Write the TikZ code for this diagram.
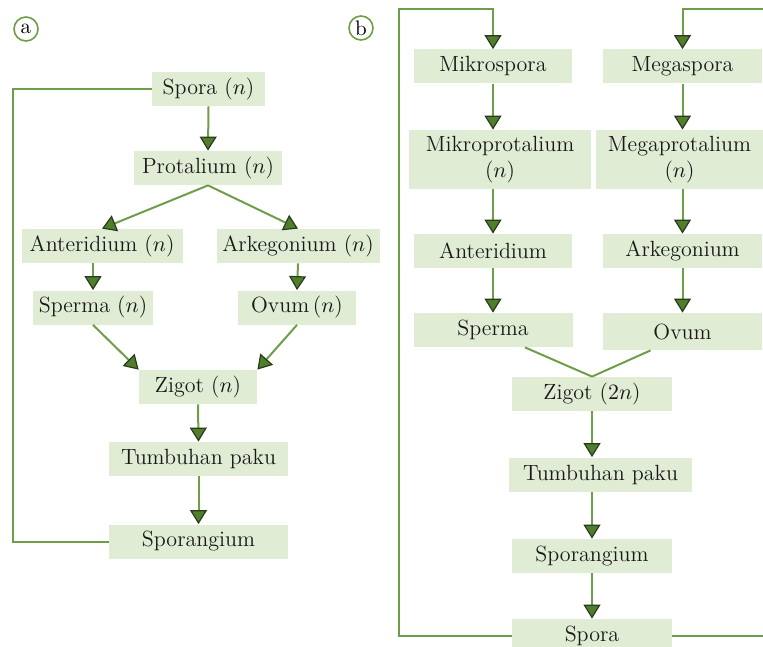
\documentclass[tikz,border=0pt]{standalone}
\usepackage{tikz}
\usetikzlibrary{arrows.meta,calc}
\definecolor{boxgreen}{HTML}{E1ECD4}
\definecolor{linegreen}{HTML}{6F9E48}
\definecolor{tipgreen}{HTML}{4F7F28}
\definecolor{tipdark}{HTML}{2B3A1F}
\tikzset{
  stage/.style={fill=boxgreen, draw=none, minimum height=17pt, inner sep=0pt, align=center, font=\fontsize{11}{13}\selectfont, text=black!90},
  flow/.style={draw=linegreen, line width=1pt, -{Triangle[width=8.5pt,length=7pt,fill=tipgreen,color=tipdark,line width=0.6pt]}},
  link/.style={draw=linegreen, line width=1pt},
  panel/.style={circle, draw=linegreen, line width=0.8pt, minimum size=12pt, inner sep=0pt, font=\fontsize{10.5}{11}\selectfont}
}

\begin{document}
\begin{tikzpicture}[x=0.5pt, y=-0.5pt]
  \useasboundingbox (0,0) rectangle (763,646);
  \node[panel] (labA) at (26,29) {a};
  \node[panel] (labB) at (361,28) {b};

  \node[stage, minimum width=56.5pt] (sporaA) at (208.5,89) {Spora ($n$)};
  \node[stage, minimum width=74pt] (protA) at (208,168) {Protalium ($n$)};
  \node[stage, minimum width=80.5pt] (antA) at (102,246) {Anteridium ($n$)};
  \node[stage, minimum width=81.5pt] (arkA) at (298,246) {Arkegonium ($n$)};
  \node[stage, minimum width=60pt] (spermA) at (93,307.5) {Sperma ($n$)};
  \node[stage, minimum width=59pt] (ovumA) at (297,307.5) {Ovum\,($n$)};
  \node[stage, minimum width=59pt] (zigA) at (198,387) {Zigot ($n$)};
  \node[stage, minimum width=89.5pt] (tumbA) at (198.5,459) {Tumbuhan paku};
  \node[stage, minimum width=89.5pt] (sporgA) at (198.5,541.5) {Sporangium};
  \coordinate (leftA) at (13,89);

  \draw[flow] (sporaA.south) -- (protA.north);
  \draw[flow] (protA.south) -- (antA.north);
  \draw[flow] (protA.south) -- (arkA.north);
  \draw[flow] (antA.south -| spermA.north) -- (spermA.north);
  \draw[flow] (arkA.south) -- (ovumA.north);
  \draw[flow] (spermA.south) -- (zigA.north west);
  \draw[flow] (ovumA.south) -- (zigA.north east);
  \draw[flow] (zigA.south) -- (tumbA.north);
  \draw[flow] (tumbA.south) -- (sporgA.north);
  \draw[link] (sporaA.west) -- (leftA) |- (sporgA.west);

  \node[stage, minimum width=79pt] (mikroB) at (493,66.5) {Mikrospora};
  \node[stage, minimum width=79.5pt] (megaB) at (682.5,66.5) {Megaspora};
  \node[stage, minimum width=91pt, minimum height=29.5pt] (mprotB) at (500,159.5) {Mikroprotalium\\($n$)};
  \node[stage, minimum width=83.5pt, minimum height=29.5pt] (gprotB) at (679.5,159.5) {Megaprotalium\\($n$)};
  \node[stage, minimum width=79pt] (antB) at (493,251) {Anteridium};
  \node[stage, minimum width=79.5pt] (arkB) at (682.5,251) {Arkegonium};
  \node[stage, minimum width=79.5pt] (spermB) at (493,330) {Sperma};
  \node[stage, minimum width=79.5pt, minimum height=18.5pt] (ovumB) at (682.5,331.5) {Ovum};
  \node[stage, minimum width=80pt] (zigB) at (592,394) {Zigot ($2n$)};
  \node[stage, minimum width=91.5pt] (tumbB) at (600.5,474.5) {Tumbuhan paku};
  \node[stage, minimum width=80pt] (sporgB) at (592,556) {Sporangium};
  \node[stage, minimum width=80pt] (sporaB) at (592,636) {Spora};
  \coordinate (topL) at (399,9);
  \coordinate (topR) at (767,9);

  \draw[flow] (sporaB.west) -| (topL) -| (mikroB.north);
  \draw[flow] (sporaB.east) -| (topR) -| (megaB.north);
  \draw[flow] (mikroB.south) -- (mikroB.south |- mprotB.north);
  \draw[flow] (megaB.south) -- (megaB.south |- gprotB.north);
  \draw[flow] (antB.north |- mprotB.south) -- (antB.north);
  \draw[flow] (arkB.north |- gprotB.south) -- (arkB.north);
  \draw[flow] (antB.south) -- (spermB.north);
  \draw[flow] (arkB.south) -- (ovumB.north);
  \draw[link] ($(spermB.south)!0.4!(spermB.south east)$) -- (zigB.north);
  \draw[link] ($(ovumB.south)!0.4!(ovumB.south west)$) -- (zigB.north);
  \draw[flow] (zigB.south) -- (zigB.south |- tumbB.north);
  \draw[flow] (sporgB.north |- tumbB.south) -- (sporgB.north);
  \draw[flow] (sporgB.south) -- (sporaB.north);
\end{tikzpicture}
\end{document}
